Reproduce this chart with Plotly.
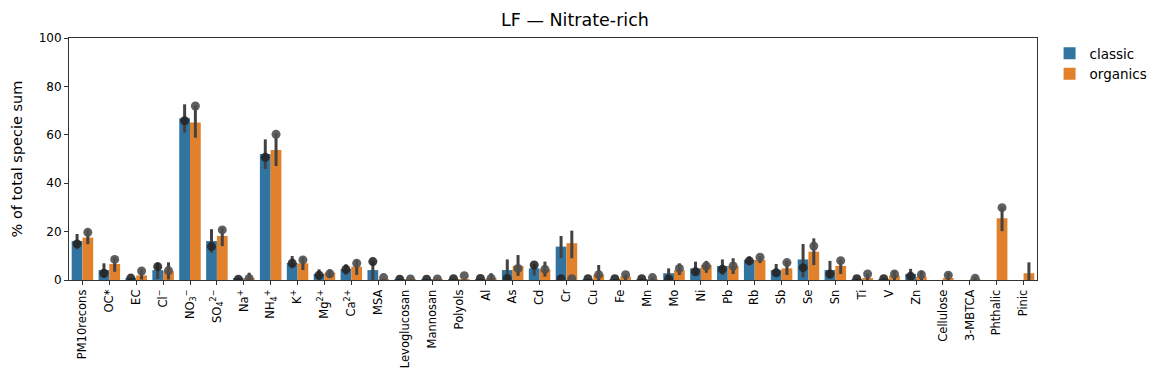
import plotly.graph_objects as go

categories = ["PM10recons", "OC*", "EC", "Cl-", "NO3-", "SO42-", "Na+", "NH4+", "K+", "Mg2+",
              "Ca2+", "MSA", "Levoglucosan", "Mannosan", "Polyols", "Al", "As", "Cd", "Cr", "Cu",
              "Fe", "Mn", "Mo", "Ni", "Pb", "Rb", "Sb", "Se", "Sn", "Ti",
              "V", "Zn", "Cellulose", "3-MBTCA", "Phthalic", "Pinic"]
tick_labels = ["PM10recons", "OC*", "EC", "Cl<sup>−</sup>", "NO<sub>3</sub><sup>−</sup>",
               "SO<sub>4</sub><sup>2−</sup>", "Na<sup>+</sup>", "NH<sub>4</sub><sup>+</sup>",
               "K<sup>+</sup>", "Mg<sup>2+</sup>", "Ca<sup>2+</sup>", "MSA", "Levoglucosan",
               "Mannosan", "Polyols", "Al", "As", "Cd", "Cr", "Cu", "Fe", "Mn", "Mo", "Ni", "Pb",
               "Rb", "Sb", "Se", "Sn", "Ti", "V", "Zn", "Cellulose", "3-MBTCA", "Phthalic", "Pinic"]

# classic: mean, CI low, CI high, observed point
classic_mean = [16.1, 4.1, 0.6, 4.1, 66.8, 16.1, 0.5, 52.1, 7.0, 2.5,
                4.5, 4.1, 0.3, 0.2, 0.1, 0.3, 4.1, 4.8, 13.8, 0.3,
                0.3, 0.3, 2.8, 4.8, 5.8, 8.3, 4.1, 8.5, 4.1, 0.3,
                0.4, 2.5, None, None, None, None]
classic_lo = [12.7, 0.8, 0.0, 0.4, 60.9, 11.3, 0.0, 45.9, 4.8, 0.0,
              2.1, 0.0, 0.0, 0.0, 0.0, 0.0, 0.0, 1.8, 9.0, 0.0,
              0.0, 0.0, 0.0, 2.1, 2.1, 6.8, 1.5, 1.1, 0.7, 0.0,
              0.0, 0.0, None, None, None, None]
classic_hi = [19.0, 6.9, 1.0, 7.2, 72.6, 21.0, 0.8, 58.1, 9.9, 4.4,
              6.5, 7.6, 0.5, 0.4, 0.2, 0.6, 8.5, 6.5, 18.2, 0.6,
              0.6, 0.6, 4.8, 7.6, 8.5, 9.8, 6.6, 14.9, 7.9, 0.6,
              0.8, 4.6, None, None, None, None]
classic_pts = [14.9, 2.8, 0.8, 5.5, 65.8, 13.8, 0.3, 50.7, 6.9, 2.0,
               4.4, 7.6, 0.3, 0.3, 0.5, 0.6, 0.6, 6.2, 0.5, 0.5,
               0.5, 0.5, 0.4, 3.4, 4.4, 7.9, 3.0, 5.1, 2.5, 0.5,
               0.5, 1.5, None, None, None, None]

organics_mean = [17.5, 6.6, 1.9, 3.7, 65.1, 18.2, 0.8, 53.7, 6.9, 3.0,
                 5.5, 0.3, 0.2, 0.2, 0.1, 0.7, 5.8, 4.4, 15.2, 2.3,
                 1.4, 0.3, 4.1, 6.2, 5.8, 8.3, 4.8, 11.7, 5.8, 0.8,
                 1.9, 1.4, 0.8, 0.4, 25.5, 2.8]
organics_lo = [14.8, 3.4, 0.2, 0.2, 58.8, 14.0, 0.0, 47.1, 4.1, 0.8,
               2.1, 0.0, 0.0, 0.0, 0.0, 0.0, 1.7, 1.4, 9.0, 0.0,
               0.0, 0.0, 2.1, 3.0, 2.5, 7.0, 2.1, 6.2, 2.5, 0.0,
               0.0, 0.0, 0.0, 0.0, 20.2, 0.0]
organics_hi = [20.7, 9.4, 4.4, 7.3, 72.3, 21.5, 3.0, 60.6, 9.3, 4.4,
               8.3, 0.6, 0.4, 0.4, 0.3, 2.8, 10.3, 7.6, 20.4, 6.2,
               2.2, 1.2, 6.9, 7.9, 9.0, 9.8, 7.9, 17.2, 8.5, 2.5,
               3.9, 3.9, 3.0, 1.2, 30.0, 7.3]
organics_pts = [19.7, 8.5, 3.7, 3.9, 71.9, 20.7, 0.6, 60.2, 8.3, 2.6,
                6.9, 1.0, 0.4, 0.4, 1.8, 0.7, 4.8, 4.4, 0.5, 2.2,
                2.2, 1.0, 4.8, 5.8, 5.8, 9.4, 7.2, 14.0, 8.0, 2.5,
                2.5, 2.2, 2.0, 0.7, 29.9, None]

series = [
    ("classic", classic_mean, classic_lo, classic_hi, classic_pts, "#3274a1", "#262626"),
    ("organics", organics_mean, organics_lo, organics_hi, organics_pts, "#e1812c", "#4f4f4f"),
]

fig = go.Figure()
for name, mean, lo, hi, pts, col, pcol in series:
    plus = [(h - m) if m is not None else 0 for m, h in zip(mean, hi)]
    minus = [(m - l) if m is not None else 0 for m, l in zip(mean, lo)]
    fig.add_trace(go.Bar(
        x=categories, y=mean, name=name, marker_color=col, marker_line_width=0,
        offsetgroup=name,
        error_y=dict(type="data", array=plus, arrayminus=minus, color="#424242",
                     thickness=3, width=0),
    ))
for name, mean, lo, hi, pts, col, pcol in series:
    fig.add_trace(go.Scatter(
        x=categories, y=pts, mode="markers", offsetgroup=name, showlegend=False,
        marker=dict(color=pcol, size=9, opacity=0.9, line_width=0),
    ))

fig.update_layout(
    width=1150, height=385,
    margin=dict(l=69, r=113, t=38, b=105, autoexpand=False),
    paper_bgcolor="white", plot_bgcolor="white",
    barmode="group", bargap=0.2, bargroupgap=0,
    scattermode="group", scattergap=0.2,
    font=dict(family="DejaVu Sans", size=12, color="#000"),
    title=dict(text="LF — Nitrate-rich", x=0.5, xref="container", xanchor="center",
               y=1 - 20 / 385, yref="container", yanchor="middle", font=dict(size=17.5)),
    legend=dict(x=1.013, y=1.0, xanchor="left", yanchor="top", font=dict(size=13.5),
                bgcolor="rgba(0,0,0,0)", tracegroupgap=2),
    showlegend=True,
)
fig.update_xaxes(
    tickvals=categories, ticktext=tick_labels, tickangle=-90, automargin=False,
    showline=True, linecolor="#333", linewidth=1, mirror=True,
    ticks="outside", ticklen=4, tickcolor="#333", showgrid=False,
    range=[-0.5, len(categories) - 0.5], tickfont=dict(size=11.5),
)
fig.update_yaxes(
    range=[0, 100], tickvals=[0, 20, 40, 60, 80, 100], automargin=False,
    title=dict(text="% of total specie sum", font=dict(size=14.5), standoff=12),
    showline=True, linecolor="#333", linewidth=1, mirror=True,
    ticks="outside", ticklen=4, tickcolor="#333", showgrid=False, zeroline=False,
    tickfont=dict(size=12),
)

fig.write_html("out.html", config={"displayModeBar": False},
               post_script="document.body.style.margin='0';document.body.style.padding='0';")
